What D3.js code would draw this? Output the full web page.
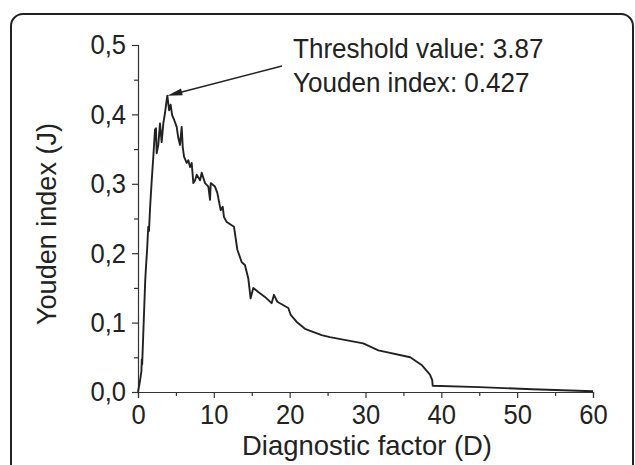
<!DOCTYPE html>
<html><head><meta charset="utf-8">
<script src="https://cdn.jsdelivr.net/npm/d3@7"></script>
<style>body{margin:0;background:#fff}svg{display:block}</style>
</head><body>
<script>
const dValues = [0,0.25,0.45,0.5,0.55,0.7,0.85,0.95,1.05,1.2,1.35,1.45,1.6,1.81,2.02,2.24,2.37,2.46,2.68,2.9,3.12,3.34,3.56,3.78,3.87,4.1,4.3,4.5,4.77,5.1,5.3,5.54,5.76,5.9,6.07,6.42,6.64,6.86,7.08,7.3,7.52,7.74,8.18,8.4,8.84,9.28,9.5,9.59,10.15,10.46,10.9,11.17,11.34,11.7,12.66,13.1,13.68,14.1,14.54,14.85,15.2,15.86,16.74,17.62,17.93,18.37,19.82,20.14,20.93,22.02,24.22,25.3,29.7,31.7,35.9,37.4,38.5,38.8,38.86,45,52,60];
const jValues = [0,0.015,0.03,0.047,0.04,0.085,0.13,0.16,0.18,0.205,0.238,0.232,0.267,0.305,0.339,0.378,0.38,0.344,0.356,0.387,0.36,0.387,0.402,0.421,0.427,0.406,0.414,0.399,0.392,0.382,0.367,0.356,0.382,0.353,0.339,0.33,0.334,0.324,0.33,0.301,0.305,0.313,0.305,0.316,0.301,0.296,0.277,0.301,0.296,0.287,0.262,0.267,0.252,0.245,0.238,0.205,0.187,0.183,0.164,0.135,0.15,0.144,0.137,0.128,0.14,0.13,0.121,0.111,0.101,0.091,0.082,0.079,0.07,0.06,0.05,0.039,0.025,0.017,0.009,0.007,0.004,0.001];
const xTicks = [0,10,20,30,40,50,60];
const yTicks = [0,0.1,0.2,0.3,0.4,0.5];
const yTickLabels = ["0,0","0,1","0,2","0,3","0,4","0,5"];
const annotLines = ["Threshold value: 3.87","Youden index: 0.427"];
const peak = {d:3.87, j:0.427};

const W=635,H=465;
const svg=d3.select("body").append("svg").attr("width",W).attr("height",H);
const font="Liberation Sans, Arial, sans-serif";
const ink="#222";

function condense(sel, k){
  sel.each(function(){
    const w=this.getComputedTextLength();
    d3.select(this).attr("textLength",w*k).attr("lengthAdjust","spacingAndGlyphs");
  });
}

svg.append("rect").attr("x",11).attr("y",14).attr("width",622).attr("height",480)
  .attr("rx",12).attr("fill","none").attr("stroke",ink).attr("stroke-width",2);

const x=d3.scaleLinear().domain([0,60]).range([138,593]);
const y=d3.scaleLinear().domain([0,0.5]).range([392,45]);

const gx=svg.append("g").attr("transform","translate(0,392)")
  .call(d3.axisBottom(x).tickValues(xTicks).tickSize(6).tickPadding(6).tickFormat(d3.format("d")));
const gxm=svg.append("g").attr("transform","translate(0,392)")
  .call(d3.axisBottom(x).tickValues(d3.range(5,60,10)).tickSize(4).tickFormat(""));
const gy=svg.append("g").attr("transform","translate(138,0)")
  .call(d3.axisLeft(y).tickValues(yTicks).tickSize(6).tickPadding(6).tickFormat((d,i)=>yTickLabels[i]));
const gym=svg.append("g").attr("transform","translate(138,0)")
  .call(d3.axisLeft(y).tickValues(d3.range(0.05,0.5,0.1)).tickSize(4).tickFormat(""));
[gx,gxm,gy,gym].forEach(g=>{
  g.select(".domain").attr("stroke","#333").attr("stroke-width",1.2);
  g.selectAll(".tick line").attr("stroke","#333").attr("stroke-width",1.2);
  g.selectAll("text").attr("font-family",font).attr("font-size",27.5).attr("fill",ink);
  condense(g.selectAll("text"),0.93);
});
gxm.select(".domain").remove(); gym.select(".domain").remove();

const data=dValues.map((d,i)=>({d,j:jValues[i]}));
svg.append("path").datum(data).attr("fill","none").attr("stroke",ink).attr("stroke-width",1.9)
  .attr("stroke-linejoin","round")
  .attr("d",d3.line().x(p=>x(p.d)).y(p=>y(p.j)));

svg.append("text").attr("x",367).attr("y",455).attr("text-anchor","middle")
  .attr("font-family",font).attr("font-size",28.5).attr("fill",ink).text("Diagnostic factor (D)")
  .attr("textLength",250).attr("lengthAdjust","spacingAndGlyphs");
svg.append("text").attr("transform","translate(56,224) rotate(-90)").attr("text-anchor","middle")
  .attr("font-family",font).attr("font-size",28.5).attr("fill",ink).text("Youden index (J)")
  .attr("textLength",202).attr("lengthAdjust","spacingAndGlyphs");

annotLines.forEach((t,i)=>{
  const tx=svg.append("text").attr("x",293).attr("y",58+i*34).attr("font-family",font).attr("font-size",28)
    .attr("fill",ink).text(t);
  condense(tx,0.93);
});

// arrow
const px=x(peak.d), py=y(peak.j);
const sx=282, sy=66;
const ang=Math.atan2(sy-py,sx-px);
const L=15, Wd=3.5;
svg.append("line").attr("x1",sx).attr("y1",sy).attr("x2",px+Math.cos(ang)*L*0.8).attr("y2",py+Math.sin(ang)*L*0.8)
  .attr("stroke",ink).attr("stroke-width",1.5);
const bx=px+Math.cos(ang)*L, by=py+Math.sin(ang)*L;
svg.append("path").attr("d",`M${px},${py}L${bx-Math.sin(ang)*Wd},${by+Math.cos(ang)*Wd}L${bx+Math.sin(ang)*Wd},${by-Math.cos(ang)*Wd}Z`)
  .attr("fill",ink);
</script>
</body></html>
